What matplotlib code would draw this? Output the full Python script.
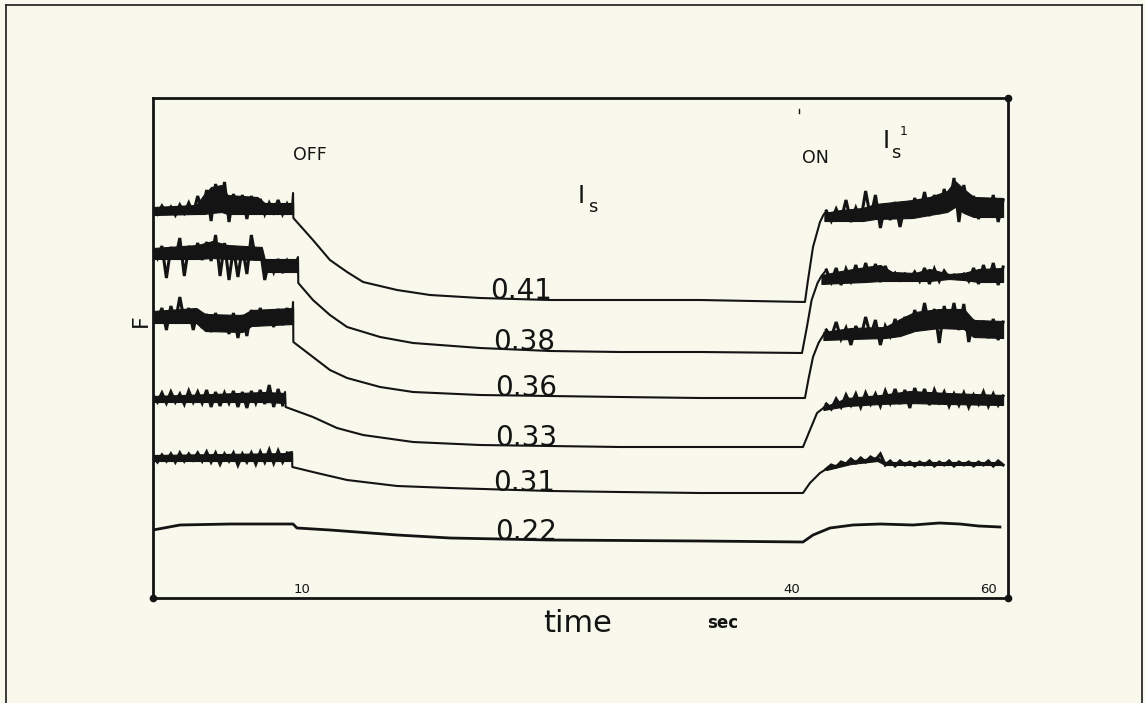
import numpy as np
import matplotlib
matplotlib.use("Agg")
import matplotlib.pyplot as plt
from matplotlib.lines import Line2D

# ---------------------------------------------------------------------------
# Chart-recorder traces of fluorescence F (arbitrary units) against time (s).
# Excitation light switched OFF at ~10 s and ON again at ~41 s.
# Noisy stretches: a solid band (core top / bottom) plus the alternating
# upper / lower excursions of the pen.
# ---------------------------------------------------------------------------

# paper speed changes after 40 s: time axis is piecewise linear (s -> length)
SPEED_T = [0.0, 10.0, 40.0, 62.0]
SPEED_L = [0.0, 149.0, 639.0, 855.0]

PRE_T = np.arange(0.0, 9.31, 0.3)      # sampling times before OFF
POST_T = np.arange(43.5, 61.51, 0.5)   # sampling times after ON

IS_LABELS = ["0.41", "0.38", "0.36", "0.33", "0.31", "0.22"]
IS_LABEL_T = [21.5, 21.7, 21.8, 21.8, 21.7, 21.8]
IS_LABEL_F = [299, 248, 202, 152, 107, 58]

# --- trace I_s = 0.41 ---
T1_PRE_F = [390, 384, 392, 385, 391, 383, 393, 385, 395, 384, 402, 386, 408, 377,
            414, 390, 416, 376, 404, 384, 403, 379, 402, 385, 399, 384, 395, 386,
            398, 384, 394, 385]
T1_PRE_CORE_T = [0, 2.9, 3.4, 3.9, 4.6, 5.0, 7.0, 7.5, 9.4]
T1_PRE_TOP = [391, 393, 403, 411, 413, 403, 401, 395, 395]
T1_PRE_BOT = [383, 384, 384, 385, 386, 384, 384, 384, 384]
T1_MID_T = [9.4, 9.42, 10.67, 11.71, 12.76, 13.74, 15.82, 17.84, 20.9, 25.19,
            29.47, 34.37, 41.32, 41.63, 42.14, 42.85, 43.2]
T1_MID_F = [405, 380, 358, 338, 326, 316, 308, 303, 300, 298, 298, 298, 296,
            318, 351, 376, 383]
T1_POST_F = [387, 377, 389, 378, 398, 376, 390, 377, 407, 380, 403, 370, 394, 378,
             396, 371, 393, 380, 400, 383, 406, 382, 403, 384, 409, 390, 420, 376,
             413, 386, 402, 379, 399, 382, 403, 376, 398]
T1_POST_CORE_T = [43.3, 45, 47.2, 48.5, 52.3, 54, 55.8, 56.6, 57.5, 58.5, 61.5]
T1_POST_TOP = [385, 388, 390, 394, 398, 401, 407, 417, 409, 401, 400]
T1_POST_BOT = [377, 377, 377, 379, 380, 383, 386, 391, 385, 381, 381]

# --- trace I_s = 0.38 ---
T2_PRE_F = [350, 340, 352, 320, 351, 339, 360, 322, 352, 340, 355, 338, 356, 337,
            363, 322, 355, 318, 350, 321, 351, 324, 363, 338, 349, 318, 338, 326,
            339, 325, 337, 327]
T2_PRE_CORE_T = [0, 3.0, 4.0, 5.0, 7.3, 7.5, 9.73]
T2_PRE_TOP = [350, 353, 357, 353, 351, 339, 339]
T2_PRE_BOT = [339, 339, 340, 339, 338, 326, 326]
T2_MID_T = [9.6, 9.73, 9.75, 10.67, 11.71, 12.76, 14.78, 16.8, 20.9, 25.19,
            29.47, 34.37, 41.02, 41.5, 42.0, 42.6, 43.0]
T2_MID_F = [336, 341, 315, 298, 283, 271, 261, 255, 250, 247, 246, 246, 245,
            270, 298, 315, 322]
T2_POST_F = [328, 316, 330, 313, 329, 317, 333, 316, 335, 318, 334, 316, 332, 319,
             325, 318, 324, 319, 326, 317, 330, 314, 329, 317, 327, 320, 323, 320,
             324, 317, 330, 314, 333, 316, 335, 313, 331]
T2_POST_CORE_T = [43.0, 45, 47.5, 49, 50.2, 52.5, 54, 56, 57.5, 59, 61.5]
T2_POST_TOP = [323, 327, 331, 333, 326, 325, 329, 324, 325, 329, 330]
T2_POST_BOT = [314, 315, 316, 317, 317, 317, 317, 319, 318, 316, 316]

# --- trace I_s = 0.36 ---
T3_PRE_F = [287, 278, 290, 268, 292, 276, 301, 277, 290, 268, 288, 270, 284, 266,
            285, 268, 282, 264, 285, 260, 283, 262, 288, 272, 290, 274, 287, 271,
            289, 273, 290, 275]
T3_PRE_CORE_T = [0, 2.9, 3.5, 6.0, 6.6, 9.4]
T3_PRE_TOP = [287, 290, 284, 283, 288, 290]
T3_PRE_BOT = [275, 275, 267, 266, 272, 274]
T3_MID_T = [9.4, 9.42, 10.67, 11.71, 12.76, 14.78, 16.8, 20.9, 25.19, 29.47,
            34.37, 41.32, 41.7, 42.14, 42.7, 43.2]
T3_MID_F = [296, 256, 241, 228, 220, 211, 206, 203, 202, 201, 200, 200, 220,
            241, 255, 263]
T3_POST_F = [268, 261, 276, 259, 270, 253, 272, 260, 281, 262, 278, 253, 272, 262,
             279, 263, 281, 265, 288, 270, 295, 271, 289, 255, 292, 272, 295, 268,
             294, 256, 278, 262, 277, 260, 279, 258, 276]
T3_POST_CORE_T = [43.2, 46, 49.5, 51, 52.5, 55, 57.5, 58.5, 61.5]
T3_POST_TOP = [266, 270, 271, 279, 286, 289, 289, 278, 277]
T3_POST_BOT = [258, 259, 260, 262, 267, 270, 269, 261, 260]

# --- trace I_s = 0.33 ---
T4_PRE_F = [203, 196, 205, 195, 206, 196, 204, 194, 207, 196, 206, 195, 208, 191,
            206, 192, 205, 195, 207, 191, 206, 190, 207, 195, 208, 194, 213, 191,
            209, 193]
T4_PRE_CORE_T = [0, 4, 7.5, 8.86]
T4_PRE_TOP = [202, 204, 206, 205]
T4_PRE_BOT = [196, 196, 196, 195]
T4_MID_T = [8.86, 8.9, 10.67, 12.14, 13.74, 16.8, 20.9, 25.19, 29.47, 34.37,
            41.12, 41.83, 42.55, 43.2]
T4_MID_F = [206, 191, 181, 170, 163, 156, 153, 152, 151, 151, 151, 168, 185, 190]
T4_POST_F = [194, 189, 199, 191, 203, 193, 204, 191, 205, 194, 204, 192, 207, 195,
             209, 194, 208, 190, 210, 195, 209, 193, 208, 196, 206, 192, 204, 193,
             205, 191, 203, 194, 206, 192, 204, 193, 202]
T4_POST_CORE_T = [43.2, 45.6, 49, 52, 55.8, 61.5]
T4_POST_TOP = [191, 200, 203, 207, 205, 203]
T4_POST_BOT = [188, 192, 194, 195, 194, 193]

# --- trace I_s = 0.31 ---
T5_PRE_F = [141, 136, 143, 137, 144, 136, 145, 137, 144, 138, 145, 137, 146, 136,
            145, 134, 144, 137, 145, 133, 144, 136, 145, 134, 146, 136, 148, 135,
            147, 136, 145]
T5_PRE_CORE_T = [0, 9.33]
T5_PRE_TOP = [143, 145]
T5_PRE_BOT = [137, 137]
T5_MID_T = [9.33, 9.35, 10.92, 12.76, 15.82, 19.06, 25.19, 29.47, 34.37, 41.12,
            41.83, 42.85]
T5_MID_F = [146, 131, 125, 118, 112, 110, 107, 106, 105, 105, 115, 125]
T5_POST_F = [129, 133, 131, 136, 134, 139, 135, 140, 136, 141, 138, 144, 133, 137,
             132, 137, 133, 136, 132, 136, 133, 137, 132, 136, 133, 137, 132, 136,
             133, 136, 132, 136, 133, 137, 132, 137, 133]
T5_POST_CORE_T = [43.5, 46, 48.7, 49.5, 61.3]
T5_POST_TOP = [131, 137, 141, 136, 136]
T5_POST_BOT = [128, 134, 137, 133, 133]

# --- trace I_s = 0.22 ---
T6_T = [0.0, 1.81, 5.17, 9.4, 9.66, 11.71, 15.82, 19.06, 25.19, 34.37, 41.12,
        42.14, 43.87, 46.21, 49.0, 52.32, 55.0, 57.1, 59.0, 61.18]
T6_F = [68, 73, 74, 74, 70, 68, 63, 60, 58, 57, 56, 63, 70, 73, 74, 73, 75, 74,
        72, 71]

TRACES = [
    (T1_PRE_F, (T1_PRE_CORE_T, T1_PRE_TOP, T1_PRE_BOT), T1_MID_T, T1_MID_F,
     T1_POST_F, (T1_POST_CORE_T, T1_POST_TOP, T1_POST_BOT)),
    (T2_PRE_F, (T2_PRE_CORE_T, T2_PRE_TOP, T2_PRE_BOT), T2_MID_T, T2_MID_F,
     T2_POST_F, (T2_POST_CORE_T, T2_POST_TOP, T2_POST_BOT)),
    (T3_PRE_F, (T3_PRE_CORE_T, T3_PRE_TOP, T3_PRE_BOT), T3_MID_T, T3_MID_F,
     T3_POST_F, (T3_POST_CORE_T, T3_POST_TOP, T3_POST_BOT)),
    (T4_PRE_F, (T4_PRE_CORE_T, T4_PRE_TOP, T4_PRE_BOT), T4_MID_T, T4_MID_F,
     T4_POST_F, (T4_POST_CORE_T, T4_POST_TOP, T4_POST_BOT)),
    (T5_PRE_F, (T5_PRE_CORE_T, T5_PRE_TOP, T5_PRE_BOT), T5_MID_T, T5_MID_F,
     T5_POST_F, (T5_POST_CORE_T, T5_POST_TOP, T5_POST_BOT)),
]

X_TICKS = [10, 40, 60]

PAPER = "#f8f8ec"
INK = "#141414"


def t_to_len(t):
    return np.interp(t, SPEED_T, SPEED_L)


def len_to_t(v):
    return np.interp(v, SPEED_L, SPEED_T)


W, H = 1145, 703
fig = plt.figure(figsize=(W / 100, H / 100), dpi=100, facecolor=PAPER)

# outer frame of the plate (open at the bottom)
for xs, ys in [([6 / W, 6 / W], [0, 1 - 5 / H]),
               ([6 / W, 1142 / W], [1 - 5 / H, 1 - 5 / H]),
               ([1142 / W, 1142 / W], [1 - 5 / H, 0])]:
    fig.add_artist(Line2D(xs, ys, color="#2a2a2a", lw=1.3))

ax = fig.add_axes([153 / W, 1 - 598 / H, (1008 - 153) / W, (598 - 98) / H])
ax.set_facecolor(PAPER)
ax.set_xscale("function", functions=(t_to_len, len_to_t))
ax.set_xlim(0, 62)
ax.set_ylim(0, 500)
ax.set_yticks([])
ax.set_xticks(X_TICKS)
ax.set_xticklabels([str(v) for v in X_TICKS])
ax.tick_params(axis="x", length=0, pad=-11, labelsize=9.5, colors=INK)
for sp in ax.spines.values():
    sp.set_linewidth(2.0)
    sp.set_color(INK)
for cx, cy in [(1, 1), (0, 0), (1, 0)]:
    ax.plot([cx], [cy], "o", ms=4.5, color=INK, transform=ax.transAxes,
            clip_on=False)


def noise_band(core, excursions_t, excursions_f):
    ct, top, bot = core
    ax.fill_between(ct, bot, top, color=INK, lw=0.8, edgecolor=INK)
    ax.plot(excursions_t, excursions_f, color=INK, lw=2.2,
            solid_joinstyle="miter")


for pre_f, pre_core, mid_t, mid_f, post_f, post_core in TRACES:
    pre_t = PRE_T[:len(pre_f)]
    post_t = POST_T[:len(post_f)]
    noise_band(pre_core, pre_t, pre_f)
    noise_band(post_core, post_t, post_f)
    # relaxation after OFF and recovery after ON
    join_t = np.concatenate([pre_t[-1:], mid_t, post_t[:1]])
    join_f = np.concatenate([pre_f[-1:], mid_f, post_f[:1]])
    ax.plot(join_t, join_f, color=INK, lw=1.5, solid_joinstyle="round")

ax.plot(T6_T, T6_F, color=INK, lw=2.0, solid_joinstyle="round")

# intensity labels sitting on their traces
for lab, lt, lf in zip(IS_LABELS, IS_LABEL_T, IS_LABEL_F):
    ax.text(lt, lf, lab, fontsize=20, color=INK, ha="left", va="baseline")

# annotations
ax.text(9.4, 438, "OFF", fontsize=12.5, color=INK, ha="left", va="baseline")
ax.text(41.0, 435, "ON", fontsize=12.5, color=INK, ha="left", va="baseline")
ax.text(26.9, 395, "I", fontsize=17, color=INK, ha="left", va="baseline")
ax.text(27.5, 386, "s", fontsize=13, color=INK, ha="left", va="baseline")
ax.text(49.2, 450, "I", fontsize=17, color=INK, ha="left", va="baseline")
ax.text(50.1, 440, "s", fontsize=13, color=INK, ha="left", va="baseline")
ax.text(51.0, 463, "1", fontsize=9, color=INK, ha="left", va="baseline")
ax.plot([40.71, 40.71], [485, 489], color=INK, lw=1.0)

# axis titles
fig.text(141 / W, 1 - 321 / H, "F", fontsize=16, color=INK, rotation=90,
         ha="center", va="center")
fig.text(543 / W, 1 - 632 / H, "time", fontsize=22, color=INK,
         ha="left", va="baseline")
fig.text(707 / W, 1 - 628 / H, "sec", fontsize=12, color=INK,
         ha="left", va="baseline", fontweight="bold")

fig.savefig("out.png", dpi=100, facecolor=PAPER)
